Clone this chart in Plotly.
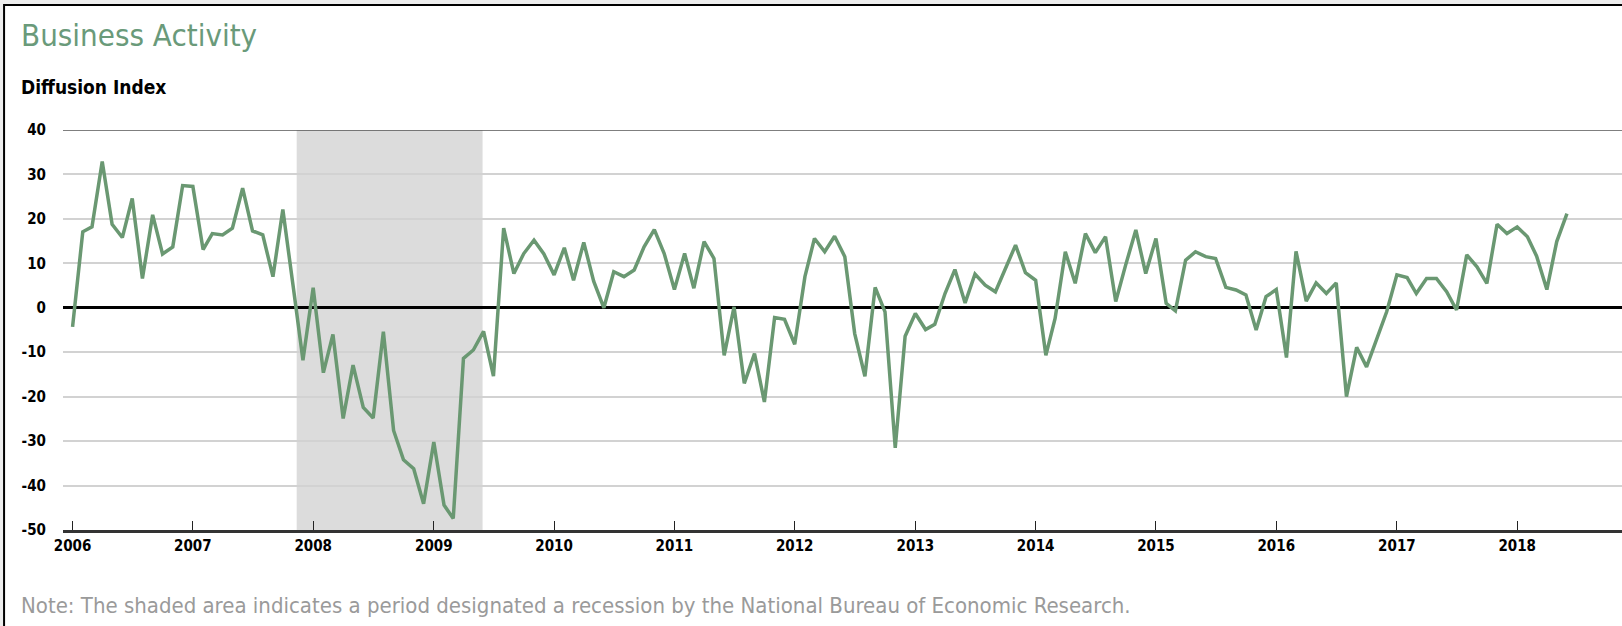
import pandas as pd
import plotly.graph_objects as go

# Monthly diffusion index, Jan 2006 - Jun 2018
start_month = "2006-01-01"
activity = [
    -4.3, 17.1, 18.2, 32.9, 18.8, 15.8, 24.6, 6.6, 20.9, 12.1, 13.7, 27.5,   # 2006
    27.3, 13.1, 16.7, 16.4, 17.9, 26.9, 17.3, 16.4, 7.0, 22.1, 5.0, -11.8,   # 2007
    4.5, -14.6, -6.0, -24.9, -12.9, -22.4, -24.8, -5.4, -27.6, -34.2, -36.2, -44.1,  # 2008
    -30.2, -44.4, -47.4, -11.4, -9.5, -5.3, -15.4, 17.9, 7.7, 12.2, 15.2, 12.1,  # 2009
    7.4, 13.5, 6.2, 14.7, 6.0, 0.0, 8.1, 7.0, 8.5, 13.7, 17.6, 12.2,       # 2010
    4.1, 12.2, 4.4, 14.9, 11.1, -10.7, 0.2, -17.0, -10.3, -21.2, -2.2, -2.6,  # 2011
    -8.2, 7.0, 15.6, 12.6, 16.1, 11.5, -5.8, -15.4, 4.6, -0.9, -31.5, -6.4,  # 2012
    -1.3, -4.9, -3.7, 3.2, 8.6, 1.1, 7.6, 5.1, 3.6, 8.9, 14.1, 7.9,        # 2013
    6.2, -10.7, -2.4, 12.6, 5.5, 16.7, 12.4, 16.0, 1.4, 9.6, 17.5, 7.7,    # 2014
    15.6, 1.0, -0.7, 10.7, 12.6, 11.5, 11.1, 4.6, 4.0, 2.9, -5.0, 2.5,     # 2015
    4.1, -11.2, 12.7, 1.5, 5.6, 3.2, 5.6, -20.0, -8.9, -13.3, -6.9, -0.9,  # 2016
    7.4, 6.8, 3.2, 6.6, 6.6, 3.6, -0.5, 11.9, 9.2, 5.5, 18.8, 16.7,        # 2017
    18.2, 16.0, 11.6, 4.1, 14.9, 21.2,                                     # 2018
]
dates = pd.date_range(start_month, periods=len(activity), freq="MS")

year_labels = [str(y) for y in range(2006, 2019)]
year_ticks = [f"{y}-01-01" for y in range(2006, 2019)]
y_ticks = [40, 30, 20, 10, 0, -10, -20, -30, -40, -50]
y_labels = ["40", "30", "20", "10", "0", "-10", "-20", "-30", "-40", "-50"]
recession = ("2007-11-12", "2009-05-29")

title_text = "Business Activity"
subtitle_text = "Diffusion Index"
note_text = "Note: The shaded area indicates a period designated a recession by the National Bureau of Economic Research."

FONT = "DejaVu Sans Condensed, Liberation Sans Narrow, Roboto, sans-serif"
GREEN = "#6a9872"

fig = go.Figure()
fig.add_trace(go.Scatter(
    x=dates, y=activity, mode="lines",
    line=dict(color=GREEN, width=3.5),
    hoverinfo="skip", showlegend=False,
))

shapes = [
    # white panel with black frame (top / left visible)
    dict(type="rect", xref="paper", yref="paper", x0=-0.0378, x1=1.02, y0=-0.3, y1=1.3125,
         fillcolor="white", line=dict(color="black", width=2), layer="below"),
    # recession shading
    dict(type="rect", xref="x", yref="paper", x0=recession[0], x1=recession[1], y0=0, y1=1,
         fillcolor="#dcdcdc", line=dict(width=0), layer="below"),
    # top line at 40
    dict(type="line", xref="paper", yref="y", x0=0, x1=1, y0=40, y1=40,
         line=dict(color="#555555", width=1.5)),
]

annotations = [
    dict(text=title_text, xref="paper", yref="paper", x=-0.0282, y=1.2375,
         xanchor="left", yanchor="middle", showarrow=False,
         font=dict(family=FONT, size=31, color="#6a9a7a")),
    dict(text=f"<b>{subtitle_text}</b>", xref="paper", yref="paper", x=-0.0282, y=1.1075,
         xanchor="left", yanchor="middle", showarrow=False,
         font=dict(family=FONT, size=19, color="black")),
    dict(text=note_text, xref="paper", yref="paper", x=-0.0282, y=-0.1875,
         xanchor="left", yanchor="middle", showarrow=False,
         font=dict(family=FONT, size=22, color="#9a9a9a")),
]

fig.update_layout(
    width=1622, height=626,
    margin=dict(l=63, r=0, t=130, b=96),
    paper_bgcolor="#ededed",
    plot_bgcolor="rgba(0,0,0,0)",
    shapes=shapes,
    annotations=annotations,
    font=dict(family=FONT),
    xaxis=dict(
        type="date", range=["2005-12-03", "2018-11-15"],
        tickvals=year_ticks, ticktext=[f"<b>{t}</b>" for t in year_labels],
        tickfont=dict(family=FONT, size=15, color="black"),
        ticks="inside", ticklen=9, tickwidth=1, tickcolor="#222222",
        showgrid=False, showline=True, linecolor="#333333", linewidth=2.5,
        zeroline=False, automargin=False,
    ),
    yaxis=dict(
        range=[-50, 40],
        tickvals=y_ticks, ticktext=[f"<b>{t}</b>" for t in y_labels],
        tickfont=dict(family=FONT, size=15, color="black"),
        showgrid=True, gridcolor="#d2d2d2", gridwidth=1.5,
        zeroline=True, zerolinecolor="black", zerolinewidth=2.5,
        showline=False, ticks="", ticklabelstandoff=16, automargin=False,
    ),
)

fig.write_html("out.html", config={"displayModeBar": False},
               post_script="document.body.style.margin='0';")
